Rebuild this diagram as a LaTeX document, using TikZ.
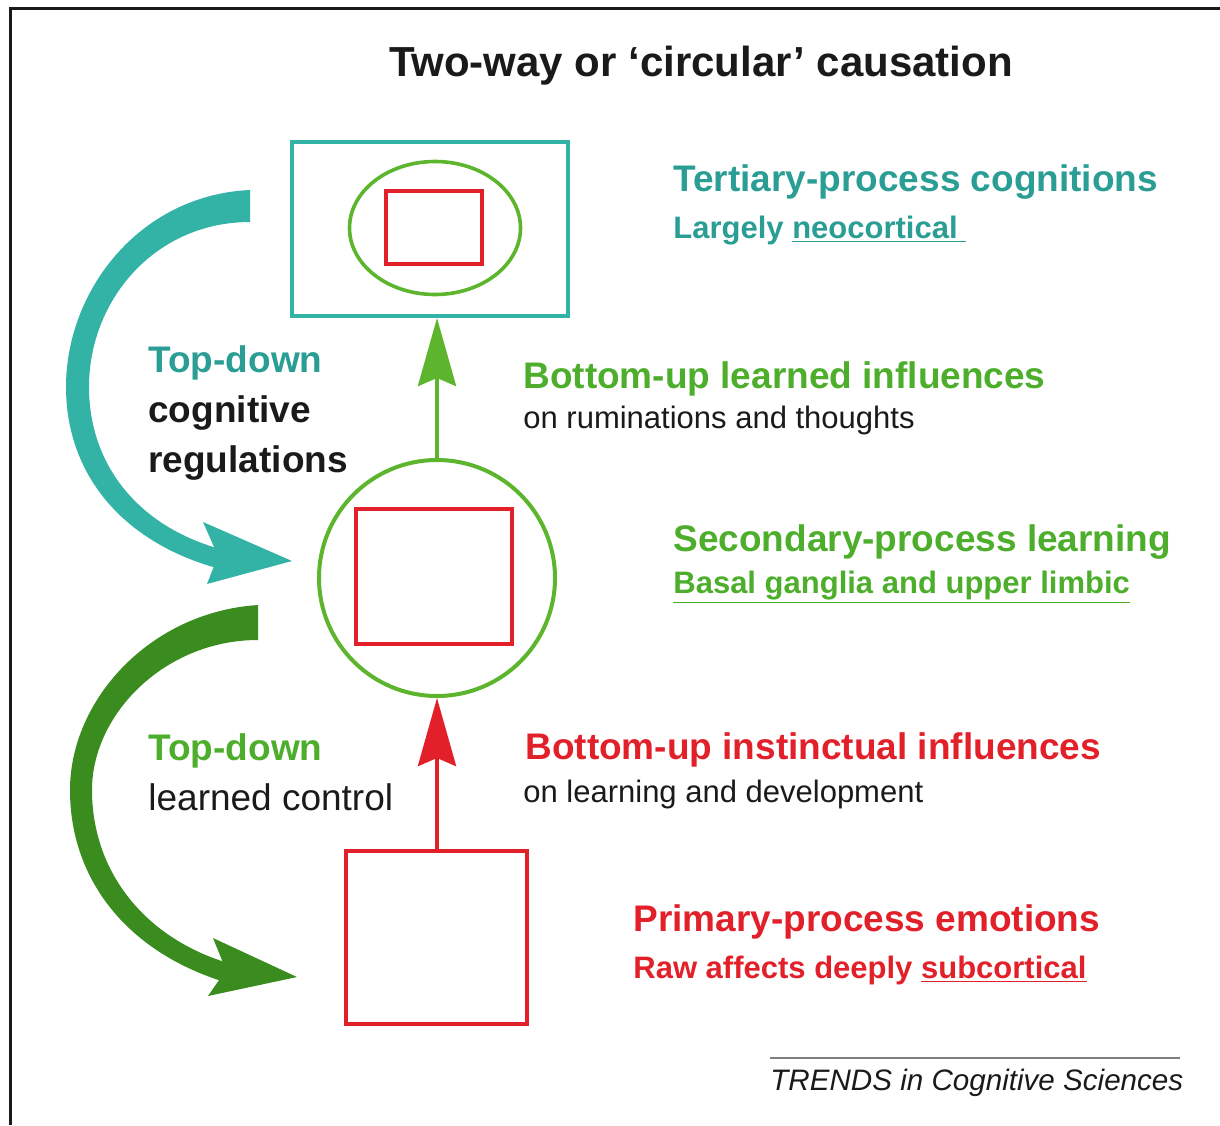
\documentclass[tikz,border=0pt]{standalone}
\usepackage{fontspec}
\setmainfont{Liberation Sans}
\usetikzlibrary{arrows.meta,shapes.geometric}

\definecolor{tealbox}{HTML}{33B3A6}
\definecolor{tealtxt}{HTML}{2A9D95}
\definecolor{grn}{HTML}{5DB52D}
\definecolor{grntxt}{HTML}{4DAE2C}
\definecolor{darkgrn}{HTML}{3A8C1E}
\definecolor{rd}{HTML}{E2202A}
\definecolor{ink}{HTML}{1A1A1A}

\begin{document}
\begin{tikzpicture}[x=0.5pt,y=-0.5pt,
  box/.style={draw,rectangle,inner sep=0pt,line width=2pt},
  head/.style={anchor=base west,inner sep=0pt,font=\fontsize{18.5}{22}\selectfont\bfseries},
  subhead/.style={anchor=base west,inner sep=0pt,font=\fontsize{15.5}{19}\selectfont\bfseries},
  note/.style={anchor=base west,inner sep=0pt,text=ink,font=\fontsize{15.5}{19}\selectfont},
  up/.style={line width=2pt,-{Stealth[length=34pt,width=19pt,inset=4pt]}}]
  \useasboundingbox (0,0) rectangle (1220,1125);
  \draw[ink,line width=1.5pt] (10,1125) -- (10,8) -- (1220,8);

  \node[anchor=base,inner sep=0pt,text=ink,font=\fontsize{21}{25}\selectfont\bfseries]
    (title) at (701,76) {Two-way or `circular' causation};

  % levels
  \node[box,tealbox,minimum width=138pt,minimum height=87pt] (ter) at (430,229) {};
  \node[draw,grn,ellipse,line width=1.8pt,inner sep=0pt,minimum width=85.5pt,minimum height=66.5pt] (terell) at (435,228) {};
  \node[box,rd,minimum width=48pt,minimum height=36.5pt] (terrect) at (434,227.5) {};

  \node[draw,grn,circle,line width=2pt,inner sep=0pt,minimum size=118pt] (sec) at (437,578) {};
  \node[box,rd,minimum width=78pt,minimum height=67.5pt] (secrect) at (434,576.5) {};

  \node[box,rd,minimum width=90.5pt,minimum height=86.5pt] (prim) at (436.5,937.5) {};

  % bottom-up
  \draw[up,grn] (sec.north) -- (sec.north |- ter.south);
  \draw[up,rd] (prim.north -| sec.south) -- (sec.south);

  % top-down
  \fill[tealbox] (250,190) .. controls (140,195) and (66,290) .. (66,387)
    .. controls (66,472) and (120,542) .. (220,569) -- (220,549)
    .. controls (135,525) and (89,462) .. (89,387)
    .. controls (89,300) and (155,222) .. (250,222) -- cycle;
  \fill[tealbox] (292,561) -- (203,522) -- (218,556) -- (207,584) -- cycle;

  \fill[darkgrn] (258,605) .. controls (150,612) and (70,700) .. (70,790)
    .. controls (70,882) and (130,954) .. (228,983) -- (228,963)
    .. controls (145,938) and (92,872) .. (92,790)
    .. controls (92,714) and (165,640) .. (258,640) -- cycle;
  \fill[darkgrn] (297,977) -- (213,938) -- (226,970) -- (208,996) -- cycle;

  % labels
  \node[head,text=tealtxt] (tdcog) at (148,372) {Top-down};
  \node[head,text=ink] (cog) at (148,422) {cognitive};
  \node[head,text=ink] (reg) at (148,472) {regulations};
  \node[head,text=grntxt] (tdlrn) at (148,760) {Top-down};
  \node[anchor=base west,inner sep=0pt,text=ink,font=\fontsize{18.5}{22}\selectfont] (lrnctl) at (148,810) {learned control};

  \node[head,text=tealtxt] (terhead) at (673,191) {Tertiary-process cognitions};
  \node[subhead,text=tealtxt] (tersub) at (673,238) {Largely \underline{neocortical\ }};
  \node[head,text=grntxt] (buhead) at (523,388) {Bottom-up learned influences};
  \node[note] (busub) at (523,428) {on ruminations and thoughts};
  \node[head,text=grntxt] (sechead) at (673,551) {Secondary-process learning};
  \node[subhead,text=grntxt] (secsub) at (673,593) {\underline{Basal ganglia and upper limbic}};
  \node[head,text=rd] (bihead) at (525,759) {Bottom-up instinctual influences};
  \node[note] (bisub) at (523,802) {on learning and development};
  \node[head,text=rd] (primhead) at (633,931) {Primary-process emotions};
  \node[subhead,text=rd] (primsub) at (633,978) {Raw affects deeply \underline{subcortical}};

  \coordinate (ruleA) at (770,1058);
  \coordinate (ruleB) at (1180,1058);
  \draw[gray,line width=0.8pt] (ruleA) -- (ruleB);
  \node[anchor=base west,inner sep=0pt,text=ink,font=\fontsize{14.8}{18}\selectfont\itshape]
    (trends) at (770,1090) {TRENDS in Cognitive Sciences};
\end{tikzpicture}
\end{document}
